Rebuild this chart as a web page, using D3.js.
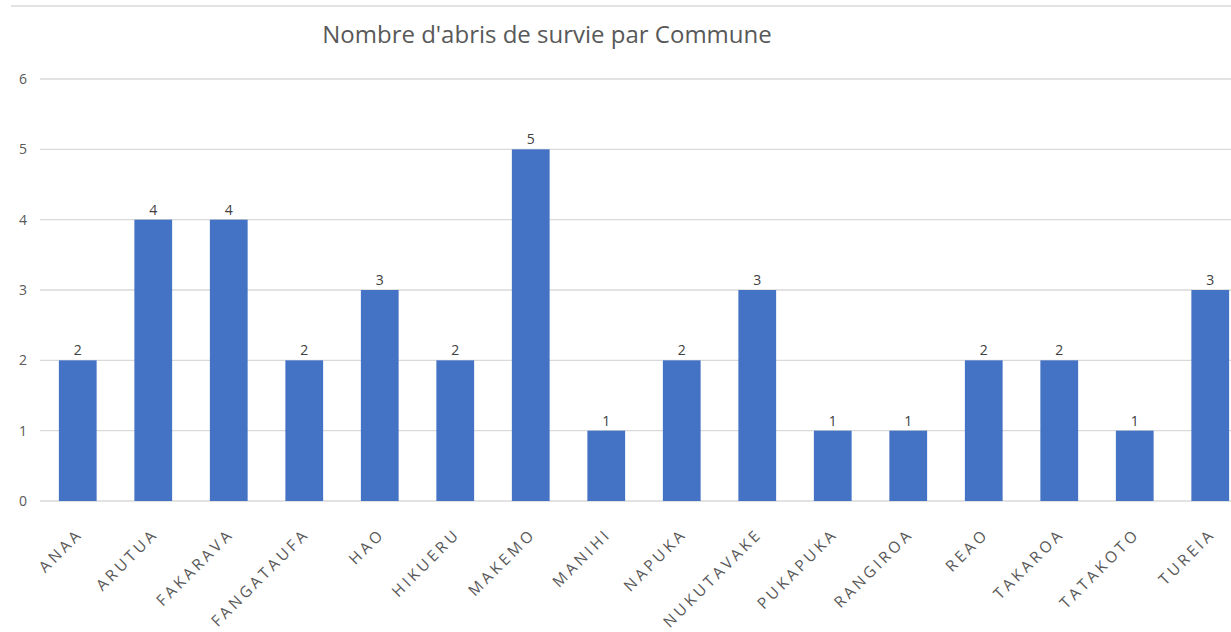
<!DOCTYPE html>
<html><head><meta charset="utf-8">
<script src="https://cdn.jsdelivr.net/npm/d3@7"></script>
<style>
html,body{margin:0;padding:0;background:#fff;}
svg{display:block;font-family:"Open Sans","Noto Sans",sans-serif;}
</style></head>
<body>
<svg id="c" width="1231" height="632"></svg>
<script>
const categories = ["ANAA","ARUTUA","FAKARAVA","FANGATAUFA","HAO","HIKUERU","MAKEMO","MANIHI","NAPUKA","NUKUTAVAKE","PUKAPUKA","RANGIROA","REAO","TAKAROA","TATAKOTO","TUREIA"];
const values = [2,4,4,2,3,2,5,1,2,3,1,1,2,2,1,3];
const yTicks = [0,1,2,3,4,5,6];
const title = "Nombre d'abris de survie par Commune";

const svg = d3.select("#c");
const W = 1231, H = 632;
const mLeft = 40, mRight = 1248, mTop = 79, mBottom = 501;

// chart border line at top
svg.append("line").attr("x1",11).attr("x2",W).attr("y1",6).attr("y2",6)
  .attr("stroke","#e3e3e3").attr("stroke-width",2);

const x = d3.scaleBand().domain(categories).range([mLeft,mRight]).paddingInner(0.5).paddingOuter(0.25);
const y = d3.scaleLinear().domain([0,6]).range([mBottom,mTop]);

// gridlines
svg.append("g").selectAll("line").data(yTicks).join("line")
  .attr("x1",mLeft).attr("x2",W).attr("y1",d=>y(d)).attr("y2",d=>y(d))
  .attr("stroke","#d9d9d9").attr("stroke-width",1.3);

// y axis labels
const yAxis = d3.axisLeft(y).tickValues(yTicks).tickFormat(d3.format("d")).tickSize(0).tickPadding(0);
const gy = svg.append("g").attr("transform",`translate(${mLeft-12},0)`).call(yAxis);
gy.select(".domain").remove();
gy.selectAll("text").attr("font-size",14).attr("fill","#595959").attr("font-family","Open Sans, sans-serif")
  .attr("letter-spacing",1);

// bars
svg.append("g").selectAll("rect").data(values).join("rect")
  .attr("x",(d,i)=>x(categories[i])).attr("width",x.bandwidth())
  .attr("y",d=>y(d)).attr("height",d=>y(0)-y(d)).attr("fill","#4472C4");

// data labels
svg.append("g").selectAll("text").data(values).join("text")
  .attr("x",(d,i)=>x(categories[i])+x.bandwidth()/2).attr("y",d=>y(d)-5)
  .attr("text-anchor","middle").attr("font-size",14).attr("fill","#404040").text(d=>d);

// x axis labels
const xAxis = d3.axisBottom(x).tickSize(0).tickPadding(0);
const gx = svg.append("g").attr("transform",`translate(0,${mBottom})`).call(xAxis);
gx.select(".domain").remove();
gx.selectAll("text").attr("font-size",15.5).attr("fill","#595959")
  .attr("font-family","Open Sans, sans-serif").attr("letter-spacing",3.3)
  .attr("text-anchor","end").attr("dy",null).attr("y",null)
  .attr("transform","translate(6,34) rotate(-45)");

// title
svg.append("text").attr("x",547).attr("y",43).attr("text-anchor","middle")
  .attr("font-size",24).attr("fill","#595959").text(title);
</script>
</body></html>
